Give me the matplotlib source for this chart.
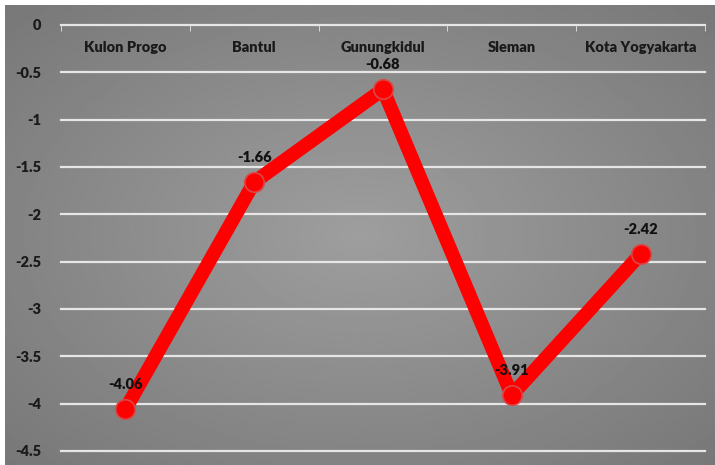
import numpy as np
import matplotlib
matplotlib.use("Agg")
import matplotlib.pyplot as plt

categories = ["Kulon Progo", "Bantul", "Gunungkidul", "Sleman", "Kota Yogyakarta"]
values = [-4.06, -1.66, -0.68, -3.91, -2.42]
value_labels = ["-4.06", "-1.66", "-0.68", "-3.91", "-2.42"]
yticks = [0, -0.5, -1, -1.5, -2, -2.5, -3, -3.5, -4, -4.5]
ytick_labels = ["0", "-0.5", "-1", "-1.5", "-2", "-2.5", "-3", "-3.5", "-4", "-4.5"]

plt.rcParams['font.family'] = ['Lato', 'DejaVu Sans']

W, H = 715, 465
fig = plt.figure(figsize=(W / 100, H / 100), dpi=100)
fig.patch.set_facecolor("white")

# gray radial gradient background (Excel style)
bg = fig.add_axes([5 / W, 0, 1 - 5 / W, 1 - 5 / H], zorder=0)
yy, xx = np.mgrid[-1:1:300j, -1:1:400j]
r = np.sqrt(xx ** 2 + yy ** 2) / np.sqrt(2)
grad = 0.62 - 0.15 * r
bg.imshow(grad, cmap="gray", vmin=0, vmax=1, aspect="auto", interpolation="bilinear")
bg.axis("off")

ax = fig.add_axes([61 / W, 1 - 451 / H, (705 - 61) / W, (451 - 25) / H], zorder=1)
ax.patch.set_alpha(0)
x = np.arange(len(categories))
ax.set_xlim(-0.5, len(categories) - 0.5)
ax.set_ylim(-4.5, 0)

for yv in yticks:
    ax.axhline(yv, color="#e6e6e6", lw=1.6, zorder=1, clip_on=False)

ax.plot(x, values, color="#ff0000", lw=10, solid_capstyle="round", solid_joinstyle="round",
        marker="o", ms=14, mfc="#ff0000", mec="#d84848", mew=1.2, zorder=3, clip_on=False)

for xi, v, lab in zip(x, values, value_labels):
    ax.annotate(lab, (xi, v), xytext=(0, 18), textcoords="offset points",
                ha="center", va="center", fontsize=10.5, fontweight="heavy", color="#111111", zorder=4)

ax.set_yticks(yticks)
ax.set_yticklabels(ytick_labels, fontsize=10.5, fontweight="heavy", color="#1a1a1a")
ax.tick_params(axis="y", length=0, pad=14)

ax.xaxis.set_ticks_position("top")
ax.set_xticks(x)
ax.set_xticklabels(categories, fontsize=10.5, fontweight="heavy", color="#1a1a1a")
ax.tick_params(axis="x", length=0, pad=-21)
ax.set_xticks(np.arange(-0.5, len(categories)), minor=True)
ax.tick_params(axis="x", which="minor", length=4, direction="in", color="#e6e6e6", top=True, bottom=False)

for s in ax.spines.values():
    s.set_visible(False)

fig.savefig("out.png", dpi=100)
